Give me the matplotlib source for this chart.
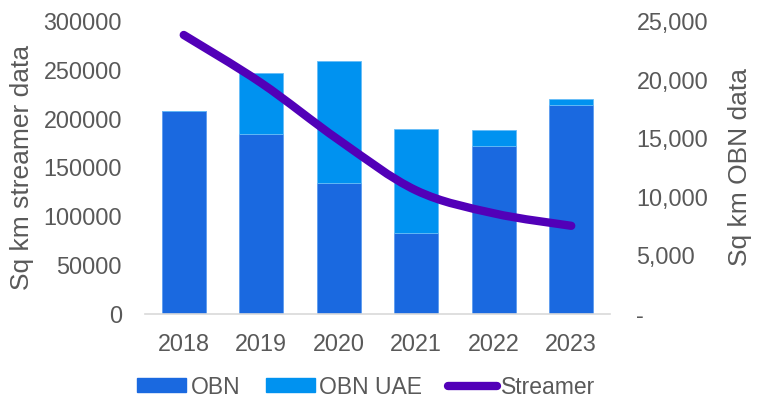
import numpy as np
import matplotlib
matplotlib.use('Agg')
import matplotlib.pyplot as plt
from matplotlib.path import Path
from matplotlib.patches import PathPatch, Patch
from matplotlib.lines import Line2D
from matplotlib.ticker import FuncFormatter

plt.rcParams['font.family'] = ['Liberation Sans', 'DejaVu Sans']

years = ['2018', '2019', '2020', '2021', '2022', '2023']
obn = [17290, 15330, 11200, 6910, 14345, 17830]          # sq km, right axis
obn_uae = [0, 5270, 10370, 8900, 1360, 535]              # sq km, right axis
streamer = [285700, 236500, 178200, 126500, 103100, 90300]  # sq km, left axis

c_obn = '#1A69E0'
c_uae = '#0092F0'
c_str = '#5200B8'
grey = '#595959'

fig = plt.figure(figsize=(7.57, 4.04), dpi=100)
ax = fig.add_axes([145/757, 1-314/404, 465/757, 293/404])
ax2 = ax.twinx()

x = np.arange(len(years))
ax2.bar(x, obn, width=0.57, color=c_obn, edgecolor='#5c9cf0', linewidth=0.6)
ax2.bar(x, obn_uae, width=0.57, bottom=obn, color=c_uae, edgecolor='#66bdf7', linewidth=0.6)

# smoothed line (Catmull-Rom style bezier through the data points)
pts = np.column_stack([x, streamer]).astype(float)
ext = np.vstack([pts[0], pts, pts[-1]])
verts = [tuple(pts[0])]
codes = [Path.MOVETO]
for i in range(len(pts) - 1):
    p0, p1, p2, p3 = ext[i], ext[i+1], ext[i+2], ext[i+3]
    c1 = p1 + (p2 - p0) / 6
    c2 = p2 - (p3 - p1) / 6
    verts += [tuple(c1), tuple(c2), tuple(p2)]
    codes += [Path.CURVE4] * 3
ax.add_patch(PathPatch(Path(verts, codes), facecolor='none', edgecolor=c_str,
                       lw=6, capstyle='round', joinstyle='round'))

ax.set_zorder(ax2.get_zorder() + 1)
ax.patch.set_visible(False)

ax.set_xlim(-0.5, 5.5)
ax.set_ylim(0, 300000)
ax2.set_ylim(0, 25000)
ax.set_yticks(np.arange(0, 300001, 50000))
ax2.set_yticks(np.arange(0, 25001, 5000))
ax2.yaxis.set_major_formatter(FuncFormatter(lambda v, p: '-' if v == 0 else f'{v:,.0f}'))
ax.set_xticks(x)
ax.set_xticklabels(years)

for a in (ax, ax2):
    for s in a.spines.values():
        s.set_visible(False)
    a.tick_params(length=0, labelsize=16.8, labelcolor=grey)
ax.spines['bottom'].set_visible(True)
ax.spines['bottom'].set_color('#d9d9d9')
ax.spines['bottom'].set_linewidth(1.2)
ax.tick_params(axis='x', pad=14)
ax.tick_params(axis='y', pad=16.5)
ax2.tick_params(axis='y', pad=19)

ax.set_ylabel('Sq km streamer data', fontsize=19, color=grey, labelpad=7)
ax2.set_ylabel('Sq km OBN data', fontsize=19, color=grey, labelpad=14)

handles = [Patch(color=c_obn), Patch(color=c_uae),
           Line2D([0], [0], color=c_str, lw=6, solid_capstyle='round')]
fig.legend(handles, ['OBN', 'OBN UAE', 'Streamer'], loc='center', bbox_to_anchor=(0.484, 1-387/404),
           ncol=3, frameon=False, fontsize=16.5, labelcolor=grey, handlelength=2.14,
           handletextpad=0.2, columnspacing=1.1, handleheight=0.55)

fig.savefig('out.png', dpi=100)
